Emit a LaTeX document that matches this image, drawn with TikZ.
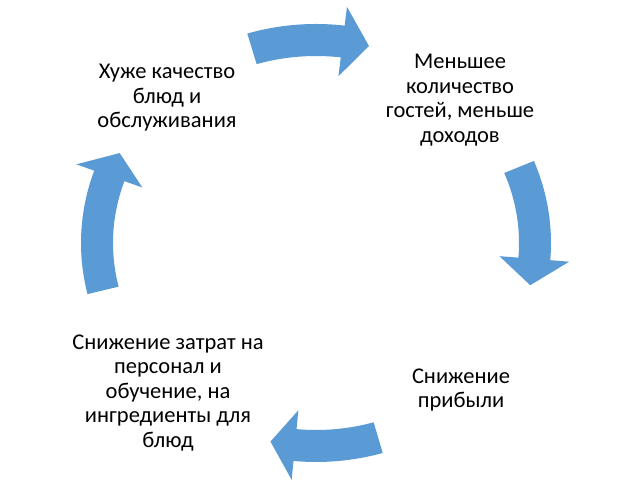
\documentclass[tikz,border=0pt]{standalone}
\usepackage{fontspec}
\setmainfont{Carlito}
\usepackage{xcolor}
\usetikzlibrary{calc}

\definecolor{cycleblue}{HTML}{5B9BD5}

% ellipse of the cycle and widths of the block arrows
\def\rx{219}  \def\ry{203}
\def\rxo{235} \def\ryo{219}
\def\rxi{203} \def\ryi{187}
\def\rxh{254} \def\ryh{238}
\def\rxj{184} \def\ryj{168}

\tikzset{
  stage/.style={align=center, inner sep=0pt, font=\fontsize{22.5}{24.5}\selectfont},
  cyclefill/.style={fill=cycleblue, draw=none},
}

% #1 tail angle, #2 angle where the head starts, #3 tip angle
\newcommand{\cyclearrow}[3]{%
  \fill[cyclefill] (#1:{\rxo} and {\ryo})
    arc[start angle=#1, end angle=#2, x radius=\rxo, y radius=\ryo]
    -- (#2:{\rxh} and {\ryh}) -- (#3:{\rx} and {\ry}) -- (#2:{\rxj} and {\ryj})
    -- (#2:{\rxi} and {\ryi})
    arc[start angle=#2, end angle=#1, x radius=\rxi, y radius=\ryi] -- cycle;}

\begin{document}
\begin{tikzpicture}[x=1pt, y=1pt]
  \useasboundingbox (0,0) rectangle (620,487);

  \node[stage] (worse)  at (167,389) {Хуже качество\\блюд и\\обслуживания};
  \node[stage] (fewer)  at (460,387) {Меньшее\\количество\\гостей, меньше\\доходов};
  \node[stage] (profit) at (461,97)  {Снижение\\прибыли};
  \node[stage] (cuts)   at (168,94)  {Снижение затрат на\\персонал и\\обучение, на\\ингредиенты для\\блюд};

  \begin{scope}[shift={(316,244)}]
    \foreach \tail/\base/\tip in {107/83/76, 22/-4.5/-12, -73.5/-95.5/-102, 193.5/160.7/153.7}
      \cyclearrow{\tail}{\base}{\tip};
  \end{scope}
\end{tikzpicture}
\end{document}
